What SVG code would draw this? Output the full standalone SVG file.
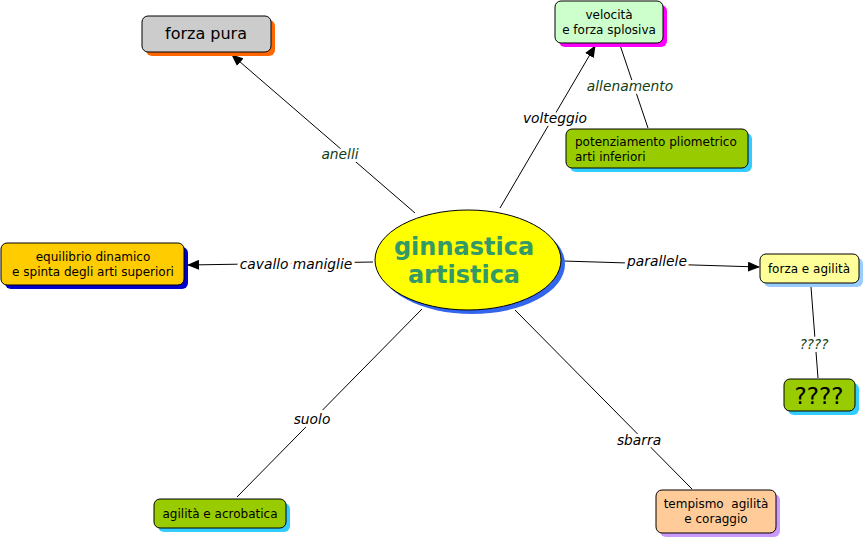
<svg xmlns="http://www.w3.org/2000/svg" width="865" height="541" viewBox="0 0 865 541">
<defs>
<style>
.node{stroke:#000;stroke-width:1}
.t{font-family:"DejaVu Sans",Verdana,sans-serif;font-size:12px;fill:#000}
.lbl{font-family:"DejaVu Sans",Verdana,sans-serif;font-size:13.8px;font-style:italic;fill:#000;text-anchor:middle;stroke:#fff;stroke-width:6px;paint-order:stroke;stroke-linejoin:round}
.g{fill:#123d12}
.c{fill:none;stroke:#000;stroke-width:1}
</style>
<marker id="ah" markerWidth="12" markerHeight="10" refX="11" refY="5" orient="auto" markerUnits="userSpaceOnUse">
<path d="M0,0 L12,5 L0,10 Z" fill="#000"/>
</marker>
</defs>
<rect width="865" height="541" fill="#fff"/>
<g id="connectors">
<line class="c" x1="415" y1="213" x2="232" y2="55" marker-end="url(#ah)"/>
<line class="c" x1="500" y1="208" x2="595" y2="46" marker-end="url(#ah)"/>
<line class="c" x1="620" y1="45" x2="648" y2="128"/>
<line class="c" x1="373" y1="262" x2="188" y2="265" marker-end="url(#ah)"/>
<line class="c" x1="563" y1="261" x2="759" y2="267" marker-end="url(#ah)"/>
<line class="c" x1="811" y1="287" x2="818" y2="378"/>
<line class="c" x1="422" y1="309" x2="237" y2="497"/>
<line class="c" x1="515" y1="310" x2="692" y2="489"/>
<text class="lbl g" x="340" y="159">anelli</text>
<text class="lbl" x="555" y="123">volteggio</text>
<text class="lbl g" x="630" y="91">allenamento</text>
<text class="lbl" x="296" y="269">cavallo maniglie</text>
<text class="lbl" x="657" y="266">parallele</text>
<text class="lbl g" x="814" y="349" style="font-size:13.5px">????</text>
<text class="lbl" x="312" y="424">suolo</text>
<text class="lbl" x="639" y="445">sbarra</text>
</g>
<g id="center">
<ellipse cx="472" cy="264" rx="93" ry="50" fill="#3366ee"/>
<ellipse class="node" cx="468" cy="260" rx="93" ry="50" fill="#ffff00"/>
<text x="464" y="255" text-anchor="middle" style="font-family:'DejaVu Sans',Verdana,sans-serif;font-size:24px;font-weight:bold;fill:#339966">ginnastica</text>
<text x="464" y="283" text-anchor="middle" style="font-family:'DejaVu Sans',Verdana,sans-serif;font-size:24px;font-weight:bold;fill:#339966">artistica</text>
</g>
<g id="forza-pura">
<rect x="146" y="20" width="129" height="36" rx="6" fill="#ff6600"/>
<rect class="node" x="142" y="16" width="129" height="36" rx="6" fill="#cccccc"/>
<text class="t" x="206" y="39" text-anchor="middle" style="font-size:16px">forza pura</text>
</g>
<g id="velocita">
<rect x="559" y="5" width="108" height="42" rx="6" fill="#ff00ff"/>
<rect class="node" x="555" y="1" width="108" height="42" rx="6" fill="#ccffcc"/>
<text class="t" x="609" y="19" text-anchor="middle">velocità</text>
<text class="t" x="609" y="34" text-anchor="middle">e forza splosiva</text>
</g>
<g id="potenziamento">
<rect x="570" y="133" width="182" height="39" rx="6" fill="#33ccff"/>
<rect class="node" x="566" y="129" width="182" height="39" rx="6" fill="#99cc00"/>
<text class="t" x="575" y="146">potenziamento pliometrico</text>
<text class="t" x="575" y="161">arti inferiori</text>
</g>
<g id="equilibrio">
<rect x="5" y="247" width="183" height="42" rx="6" fill="#0000cc"/>
<rect class="node" x="1" y="243" width="183" height="42" rx="6" fill="#ffcc00"/>
<text class="t" x="93" y="261" text-anchor="middle">equilibrio dinamico</text>
<text class="t" x="93" y="276" text-anchor="middle">e spinta degli arti superiori</text>
</g>
<g id="forza-agilita">
<rect x="764" y="258" width="99" height="29" rx="6" fill="#99ccff"/>
<rect class="node" x="760" y="254" width="99" height="29" rx="6" fill="#ffff99"/>
<text class="t" x="809" y="273" text-anchor="middle">forza e agilità</text>
</g>
<g id="qqqq">
<rect x="788" y="383" width="71" height="32" rx="6" fill="#33ccff"/>
<rect class="node" x="784" y="379" width="71" height="32" rx="6" fill="#99cc00"/>
<text class="t" x="819" y="404" text-anchor="middle" style="font-size:23px">????</text>
</g>
<g id="agilita-acrobatica">
<rect x="158" y="503" width="132" height="29" rx="6" fill="#33ccff"/>
<rect class="node" x="154" y="499" width="132" height="29" rx="6" fill="#99cc00"/>
<text class="t" x="220" y="518" text-anchor="middle">agilità e acrobatica</text>
</g>
<g id="tempismo">
<rect x="660" y="494" width="120" height="43" rx="6" fill="#cc99ff"/>
<rect class="node" x="656" y="490" width="120" height="43" rx="6" fill="#ffcc99"/>
<text class="t" x="716" y="508" text-anchor="middle" style="white-space:pre">tempismo  agilità</text>
<text class="t" x="716" y="523" text-anchor="middle">e coraggio</text>
</g>
</svg>
